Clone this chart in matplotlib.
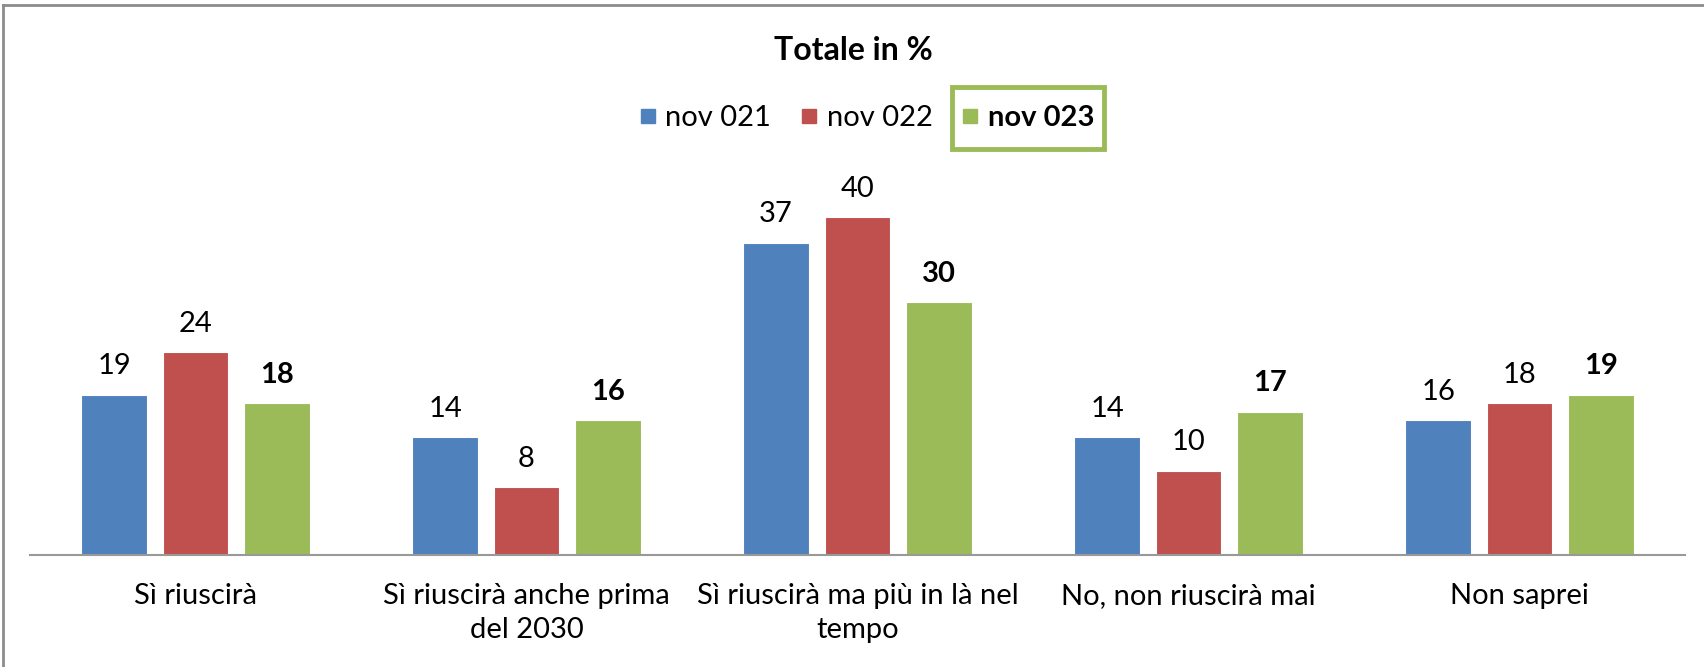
import matplotlib.pyplot as plt
from matplotlib.patches import Rectangle
from matplotlib.lines import Line2D
import numpy as np

# --- Dati ---
categorie = ["Sì riuscirà", "Sì riuscirà anche prima\ndel 2030",
             "Sì riuscirà ma più in là nel\ntempo", "No, non riuscirà mai", "Non saprei"]
serie = ["nov 021", "nov 022", "nov 023"]
nov_021 = [19, 14, 37, 14, 16]
nov_022 = [24, 8, 40, 10, 18]
nov_023 = [18, 16, 30, 17, 19]
colori = ["#4F81BD", "#C0504D", "#9BBB59"]

plt.rcParams['font.family'] = ['Lato', 'DejaVu Sans']

fig = plt.figure(figsize=(17.04, 6.67), dpi=100)
ax = fig.add_axes([30 / 1704, 112 / 667, 1655 / 1704, 0.62])

x = np.arange(len(categorie))
larghezza = 0.197
passo = 0.246
for i, (valori, col) in enumerate(zip([nov_021, nov_022, nov_023], colori)):
    barre = ax.bar(x + (i - 1) * passo, valori, larghezza, color=col,
                   edgecolor='white', linewidth=0.8)
    peso = 'bold' if i == 2 else 'normal'
    for b, v in zip(barre, valori):
        ax.annotate(str(v), (b.get_x() + b.get_width() / 2, v),
                    xytext=(0, 11), textcoords='offset points',
                    ha='center', va='bottom', fontsize=21, fontweight=peso)

ax.set_xlim(-0.5, len(categorie) - 0.5)
ax.set_ylim(0, 49)
ax.set_xticks(x)
ax.set_xticklabels(categorie, fontsize=21, linespacing=1.4)
ax.tick_params(axis='x', length=0, pad=20)
ax.set_yticks([])
for lato in ['top', 'right', 'left']:
    ax.spines[lato].set_visible(False)
ax.spines['bottom'].set_color('#999999')
ax.spines['bottom'].set_linewidth(1.5)

fig.text(853 / 1704, 1 - 51 / 667, "Totale in %", ha='center', va='center',
         fontsize=23, fontweight='bold')

maniglie = [Line2D([], [], marker='s', linestyle='none', markersize=10,
                   markerfacecolor=c, markeredgecolor=c) for c in colori]
leg = fig.legend(maniglie, serie, loc='center', bbox_to_anchor=(866 / 1704, 1 - 118 / 667),
                 ncol=3, frameon=False, fontsize=21, handletextpad=0.25,
                 columnspacing=0.95, handlelength=0.7)
leg.get_texts()[2].set_fontweight('bold')

# riquadro verde attorno alla voce "nov 023"
fig.canvas.draw()
r = fig.canvas.get_renderer()
bb_h = leg.legend_handles[2].get_window_extent(r)
bb_t = leg.get_texts()[2].get_window_extent(r)
cx = (bb_h.x0 + bb_h.x1) / 2
x0 = cx - 7 - 11
x1 = bb_t.x1 + 10
yc = (bb_t.y0 + bb_t.y1) / 2
fig.patches.append(Rectangle((x0, yc - 31), x1 - x0, 62, transform=None,
                             fill=False, edgecolor='#9BBB59', linewidth=3.5))

# cornice del grafico (lati sinistro e superiore)
fig.add_artist(Line2D([3 / 1704, 3 / 1704], [0, 1 - 5 / 667], transform=fig.transFigure,
                      color='#8C8C8C', linewidth=2))
fig.add_artist(Line2D([3 / 1704, 1], [1 - 5 / 667, 1 - 5 / 667], transform=fig.transFigure,
                      color='#8C8C8C', linewidth=2))

fig.savefig('out.png', dpi=100)
